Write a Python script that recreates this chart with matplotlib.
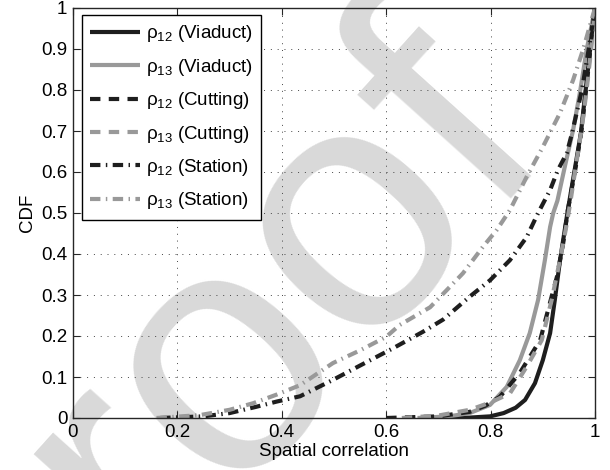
import matplotlib
matplotlib.use("Agg")
from matplotlib import pyplot as plt

# CDF curves of spatial correlation (x: correlation, y: CDF)
via12_x = [0.72, 0.76, 0.799, 0.825, 0.848, 0.866, 0.885, 0.9, 0.914, 0.923, 0.933, 0.943, 0.948, 0.962, 0.973,
           0.98, 0.987, 0.994, 1.0]
via12_y = [0.0, 0.001, 0.004, 0.012, 0.025, 0.044, 0.085, 0.141, 0.207, 0.288, 0.385, 0.466, 0.507, 0.612, 0.695,
           0.776, 0.856, 0.939, 1.0]

via13_x = [0.66, 0.72, 0.76, 0.799, 0.831, 0.856, 0.875, 0.891, 0.904, 0.914, 0.92, 0.928, 0.942, 0.958, 0.971,
           0.984, 1.0]
via13_y = [0.0, 0.004, 0.012, 0.032, 0.076, 0.141, 0.207, 0.288, 0.385, 0.466, 0.5, 0.53, 0.612, 0.702, 0.793,
           0.898, 1.0]

cut12_x = [0.6, 0.7, 0.76, 0.79, 0.818, 0.856, 0.895, 0.91, 0.927, 0.939, 0.948, 0.963, 0.974, 0.981, 0.988,
           0.994, 1.0]
cut12_y = [0.0, 0.004, 0.015, 0.03, 0.052, 0.11, 0.19, 0.263, 0.344, 0.426, 0.507, 0.612, 0.7, 0.78, 0.86,
           0.94, 1.0]

cut13_x = [0.63, 0.7, 0.76, 0.8, 0.837, 0.869, 0.898, 0.917, 0.932, 0.944, 0.952, 0.964, 0.975, 0.983, 0.99,
           0.996, 1.0]
cut13_y = [0.0, 0.006, 0.02, 0.038, 0.06, 0.125, 0.19, 0.288, 0.38, 0.46, 0.52, 0.62, 0.71, 0.79, 0.87,
           0.94, 1.0]

sta12_x = [0.167, 0.25, 0.3, 0.35, 0.39, 0.435, 0.498, 0.55, 0.613, 0.67, 0.709, 0.76, 0.799, 0.837, 0.869,
           0.891, 0.914, 0.929, 0.946, 0.956, 0.975, 0.988, 1.0]
sta12_y = [0.0, 0.004, 0.012, 0.027, 0.04, 0.053, 0.093, 0.128, 0.17, 0.21, 0.24, 0.296, 0.336, 0.385, 0.441,
           0.5, 0.556, 0.605, 0.646, 0.695, 0.8, 0.9, 1.0]

sta13_x = [0.16, 0.243, 0.3, 0.345, 0.39, 0.435, 0.498, 0.55, 0.6, 0.626, 0.684, 0.716, 0.747, 0.785, 0.812,
           0.837, 0.869, 0.9, 0.933, 0.958, 0.977, 1.0]
sta13_y = [0.0, 0.007, 0.02, 0.036, 0.057, 0.08, 0.134, 0.165, 0.198, 0.227, 0.27, 0.312, 0.353, 0.417, 0.459,
           0.507, 0.588, 0.661, 0.744, 0.824, 0.898, 1.0]

labels = [
    "ρ$_{12}$ (Viaduct)",
    "ρ$_{13}$ (Viaduct)",
    "ρ$_{12}$ (Cutting)",
    "ρ$_{13}$ (Cutting)",
    "ρ$_{12}$ (Station)",
    "ρ$_{13}$ (Station)",
]
ticks = [0, 0.2, 0.4, 0.6, 0.8, 1]
yticks = [0, 0.1, 0.2, 0.3, 0.4, 0.5, 0.6, 0.7, 0.8, 0.9, 1]

# plotting options
plt.rcParams["font.family"] = ["Liberation Sans", "DejaVu Sans"]
plt.rcParams["font.size"] = 13.5
plt.rcParams["mathtext.fontset"] = "custom"
plt.rcParams["mathtext.rm"] = "Liberation Sans"
plt.rcParams["mathtext.it"] = "Liberation Sans"
plt.rcParams["mathtext.default"] = "regular"

black = "#1e1e1e"
gray = "#999999"
lw = 3.0
dash = (0, (2.5, 2.0))
dashdot = (0, (2.5, 1.3, 0.35, 1.3))

fig = plt.figure(figsize=(6.1, 4.7), dpi=100)
ax = fig.add_axes([73 / 610, 1 - 418 / 470, 522 / 610, 410 / 470])
ax.set_facecolor("none")

# watermark behind the axes
fig.text(-0.014, -0.586, "Proof", fontsize=250, color="#d9d9d9", rotation=48,
         rotation_mode="anchor", ha="left", va="baseline", zorder=-1)

ax.plot(via12_x, via12_y, color=black, lw=lw, solid_capstyle="butt", label=labels[0])
ax.plot(via13_x, via13_y, color=gray, lw=lw, solid_capstyle="butt", label=labels[1])
ax.plot(cut12_x, cut12_y, color=black, lw=lw, ls=dash, label=labels[2])
ax.plot(cut13_x, cut13_y, color=gray, lw=lw, ls=dash, label=labels[3])
ax.plot(sta12_x, sta12_y, color=black, lw=lw, ls=dashdot, label=labels[4])
ax.plot(sta13_x, sta13_y, color=gray, lw=lw, ls=dashdot, label=labels[5])

ax.set_xlim(0, 1)
ax.set_ylim(0, 1)
ax.set_xticks(ticks)
ax.set_xticklabels([f"{t:g}" for t in ticks])
ax.set_yticks(yticks)
ax.set_yticklabels([f"{t:g}" for t in yticks])
ax.tick_params(direction="in", length=5, width=0.8, top=True, right=True, colors="#262626", labelcolor="black")
ax.tick_params(axis="x", pad=4)
ax.tick_params(axis="y", pad=4)
ax.grid(True, color="#444444", lw=0.7, ls=(0, (1, 6)))
for s in ax.spines.values():
    s.set_linewidth(1.0)
    s.set_color("#262626")

ax.set_xlabel("Spatial correlation", labelpad=2)
ax.set_ylabel("CDF", labelpad=4)

leg = ax.legend(loc="upper left", bbox_to_anchor=((82 - 73) / 522, 1 - (15 - 8) / 410),
                borderaxespad=0, fancybox=False, framealpha=1, edgecolor="black",
                handlelength=2.65, handletextpad=0.3, labelspacing=0.66, borderpad=0.45)
leg.get_frame().set_linewidth(1.0)

fig.savefig("out.png", dpi=100)
